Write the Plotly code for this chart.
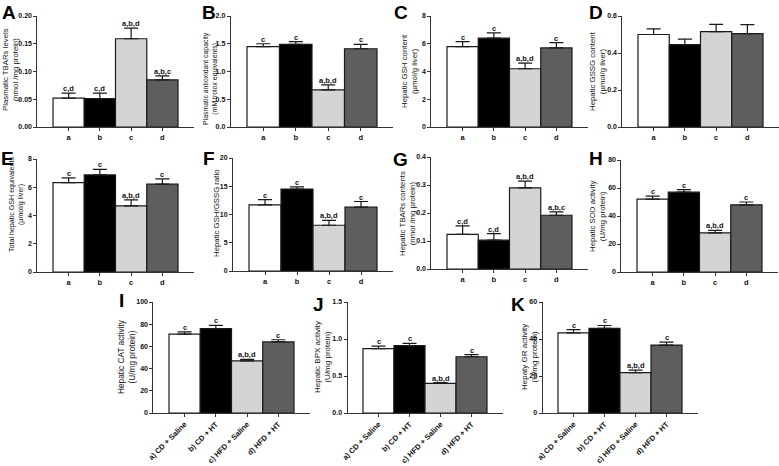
import plotly.graph_objects as go

# ---------------- data ----------------
groups = ["a", "b", "c", "d"]
group_labels = ["a) CD + Saline", "b) CD + HT", "c) HFD + Saline", "d) HFD + HT"]
bar_colors = ["#ffffff", "#000000", "#d4d4d4", "#5e5e5e"]

A_vals = [0.052, 0.051, 0.159, 0.085]
A_err = [0.009, 0.010, 0.019, 0.007]
A_sig = ["c,d", "c,d", "a,b,d", "a,b,c"]

B_vals = [1.45, 1.49, 0.67, 1.41]
B_err = [0.05, 0.05, 0.09, 0.08]
B_sig = ["c", "c", "a,b,d", "c"]

C_vals = [5.8, 6.4, 4.2, 5.7]
C_err = [0.36, 0.38, 0.40, 0.38]
C_sig = ["c", "c", "a,b,d", "c"]

D_vals = [0.50, 0.445, 0.515, 0.505]
D_err = [0.030, 0.030, 0.040, 0.048]
D_sig = ["", "", "", ""]

E_vals = [6.33, 6.87, 4.68, 6.22]
E_err = [0.33, 0.40, 0.42, 0.38]
E_sig = ["c", "c", "a,b,d", "c"]

F_vals = [11.7, 14.5, 8.1, 11.3]
F_err = [0.95, 0.40, 0.85, 1.0]
F_sig = ["c", "c", "a,b,d", "c"]

G_vals = [0.124, 0.103, 0.290, 0.192]
G_err = [0.030, 0.023, 0.024, 0.012]
G_sig = ["c,d", "c,d", "a,b,d", "a,b,c"]

H_vals = [52.0, 57.0, 28.0, 48.0]
H_err = [2.2, 1.8, 1.8, 2.0]
H_sig = ["c", "c", "a,b,d", "c"]

I_vals = [71.0, 76.0, 47.0, 64.0]
I_err = [2.0, 3.0, 1.3, 2.0]
I_sig = ["c", "c", "a,b,d", "c"]

J_vals = [0.87, 0.91, 0.40, 0.76]
J_err = [0.035, 0.030, 0.012, 0.030]
J_sig = ["c", "c", "a,b,d", "c"]

K_vals = [43.3, 45.7, 21.8, 36.7]
K_err = [1.8, 1.6, 1.4, 1.6]
K_sig = ["c", "c", "a,b,d", "c"]

# ---------------- layout helpers ----------------
W, H = 779, 466
FONT = "Arial, 'Liberation Sans', sans-serif"

def fx(px):
    return px / W

def fy(py):
    return 1 - py / H

# panel: letter, values, errors, sig, y max, dtick, tickformat, ytitle, title font size,
#        bar block left px, bar block right px, top px, bottom px,
#        letter pos (left, box top), title centre (x, y), bottom row?
panels = [
    ("A", A_vals, A_err, A_sig, 0.20, 0.05, ".2f", "Plasmatic TBARs levels<br>(nmol /mg protein)", 7.8,
     53, 178, 16, 127, (0, 0), (10, 70), False),
    ("B", B_vals, B_err, B_sig, 2.0, 0.5, ".1f", "Plasmatic antioxidant capacity<br>(mM trolox equivalents)", 6.9,
     247, 377, 16, 127, (200, 0), (211, 79), False),
    ("C", C_vals, C_err, C_sig, 8, 2, "d", "Hepatic GSH content<br>(µmol/g liver)", 7.8,
     447, 572, 16, 127, (392, 0), (410, 71), False),
    ("D", D_vals, D_err, D_sig, 0.6, 0.2, ".1f", "Hepatic GSSG content<br>(µmol/g liver)", 7.8,
     638, 763, 16, 127, (587, 0), (598, 71), False),
    ("E", E_vals, E_err, E_sig, 8, 2, "d", "Total hepatic GSH equivalents<br>(µmol/g liver)", 7.1,
     53, 178, 159, 272, (-1, 146), (16, 205), False),
    ("F", F_vals, F_err, F_sig, 20, 5, "d", "Hepatic GSH/GSSG ratio", 7.8,
     249, 377, 158, 271, (201, 146), (216, 213), False),
    ("G", G_vals, G_err, G_sig, 0.4, 0.1, ".1f", "Hepatic TBARs contents<br>(nmol /mg protein)", 7.8,
     447, 572, 157, 269, (391, 147), (407, 213), False),
    ("H", H_vals, H_err, H_sig, 80, 20, "d", "Hepatic SOD activity<br>(U/mg protein)", 7.8,
     637, 762, 160, 272, (587, 146), (597, 216), False),
    ("I", I_vals, I_err, I_sig, 100, 20, "d", "Hepatic CAT activity<br>(U/mg protein)", 8.3,
     169, 294, 302, 413, (117, 288), (126, 357), True),
    ("J", J_vals, J_err, J_sig, 1.5, 0.5, ".1f", "Hepatic BPX activity<br>(U/mg protein)", 8.0,
     363, 487, 302, 413, (311, 292), (322, 357), True),
    ("K", K_vals, K_err, K_sig, 60, 20, "d", "Hepaty GR activity<br>(U/mg protein)", 8.0,
     558, 682, 302, 413, (509, 292), (529, 357), True),
]

fig = go.Figure()
annotations = []
layout_axes = {}
PAD = 0.5
xs = [0, 1, 2, 3]

for i, (letter, vals, errs, sigs, ymax, dtick, tfmt, ytitle, tsize,
        bx0, bx1, top, bot, lpos, tpos, bottom_row) in enumerate(panels):
    n = i + 1
    xa = "x" if n == 1 else f"x{n}"
    ya = "y" if n == 1 else f"y{n}"
    xkey = "xaxis" if n == 1 else f"xaxis{n}"
    ykey = "yaxis" if n == 1 else f"yaxis{n}"
    bw = (bx1 - bx0) / 4.0
    d0 = bx0 - PAD * bw
    d1 = bx1 + PAD * bw

    fig.add_trace(go.Bar(
        x=xs, y=vals, width=[1] * 4,
        marker=dict(color=bar_colors, line=dict(color="#1a1a1a", width=1.2)),
        error_y=dict(type="data", array=errs, arrayminus=[0] * 4, symmetric=False,
                     color="#1a1a1a", thickness=1.2, width=7),
        xaxis=xa, yaxis=ya, showlegend=False, hoverinfo="skip",
    ))

    layout_axes[xkey] = dict(
        domain=[fx(d0), fx(d1)], anchor=ya, range=[-0.5 - PAD, 3.5 + PAD],
        automargin=False,
        showline=True, linecolor="#333333", linewidth=1,
        ticks="outside", ticklen=3, tickwidth=1, tickcolor="#333333",
        tickvals=xs, ticktext=group_labels if bottom_row else groups,
        tickangle=-45 if bottom_row else 0,
        tickfont=dict(family=FONT, size=7.5, color="#111111", weight="bold"),
        showgrid=False, zeroline=False, fixedrange=True,
    )
    layout_axes[ykey] = dict(
        domain=[fy(bot), fy(top)], anchor=xa, range=[0, ymax],
        automargin=False,
        dtick=dtick, tick0=0, tickformat=tfmt,
        showline=True, linecolor="#333333", linewidth=1,
        ticks="outside", ticklen=3, tickwidth=1, tickcolor="#333333",
        tickfont=dict(family=FONT, size=7, color="#111111", weight="bold"),
        showgrid=False, zeroline=False, fixedrange=True,
    )

    # panel letter
    annotations.append(dict(
        text=f"<b>{letter}</b>", x=fx(lpos[0]), y=fy(lpos[1]), xref="paper", yref="paper",
        xanchor="left", yanchor="top", showarrow=False,
        font=dict(family=FONT, size=19, color="#000000"),
    ))
    # y title
    annotations.append(dict(
        text=ytitle, x=fx(tpos[0]), y=fy(tpos[1]), xref="paper", yref="paper",
        xanchor="center", yanchor="middle", textangle=-90, showarrow=False,
        font=dict(family=FONT, size=tsize, color="#111111"),
    ))
    # significance labels
    for k in range(4):
        if sigs[k]:
            annotations.append(dict(
                text=sigs[k], x=xs[k], y=vals[k] + errs[k], xref=xa, yref=ya,
                xanchor="center", yanchor="bottom", showarrow=False, yshift=-2,
                font=dict(family=FONT, size=7.5, color="#111111", weight="bold"),
            ))

fig.update_layout(
    template="none",
    width=W, height=H,
    margin=dict(l=0, r=0, t=0, b=0, pad=0),
    paper_bgcolor="white", plot_bgcolor="white",
    bargap=0, annotations=annotations,
    **layout_axes,
)

fig.write_html(
    "out.html",
    config={"displayModeBar": False, "staticPlot": True},
    post_script="document.body.style.margin='0px';document.body.style.overflow='hidden';",
)
